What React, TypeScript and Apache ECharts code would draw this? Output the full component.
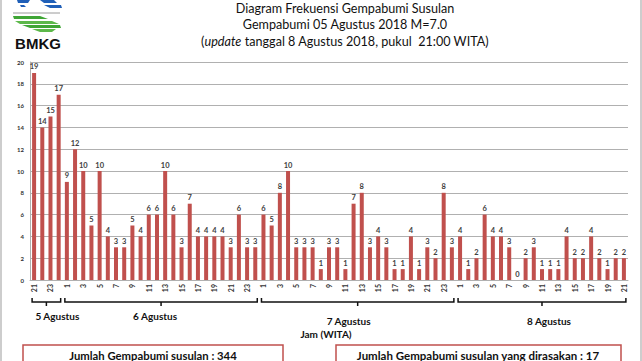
import React, { useEffect, useRef } from "react";
import * as echarts from "echarts";

const titleLines = [
  "Diagram Frekuensi Gempabumi Susulan",
  "Gempabumi 05 Agustus 2018 M=7.0",
];
const dayNames = ["5 Agustus", "6 Agustus", "7 Agustus", "8 Agustus"];
const dayHours: string[][] = [
  ["21", "22", "23", "24"],
  ["1","2","3","4","5","6","7","8","9","10","11","12","13","14","15","16","17","18","19","20","21","22","23","24"],
  ["1","2","3","4","5","6","7","8","9","10","11","12","13","14","15","16","17","18","19","20","21","22","23","24"],
  ["1","2","3","4","5","6","7","8","9","10","11","12","13","14","15","16","17","18","19","20","21"],
];
const dayCounts: number[][] = [
  [19, 14, 15, 17],
  [9, 12, 10, 5, 10, 4, 3, 3, 5, 4, 6, 6, 10, 6, 3, 7, 4, 4, 4, 4, 3, 6, 3, 3],
  [6, 5, 8, 10, 3, 3, 3, 1, 3, 3, 1, 7, 8, 3, 4, 3, 1, 1, 4, 1, 3, 2, 8, 3],
  [4, 1, 2, 6, 4, 4, 3, 0, 2, 3, 1, 1, 1, 4, 2, 2, 4, 2, 1, 2, 2],
];
const totalText = "Jumlah Gempabumi susulan : 344";
const feltText = "Jumlah Gempabumi susulan yang dirasakan : 17";

const categories: string[] = [];
const values: number[] = [];
const dayRanges: [number, number][] = [];
dayHours.forEach((hrs, d) => {
  const start = categories.length;
  hrs.forEach((h, i) => {
    categories.push(d + "-" + h);
    values.push(dayCounts[d][i]);
  });
  dayRanges.push([start, categories.length - 1]);
});

const RED = "#C0504D";
const FONT = "Lato, 'Open Sans', sans-serif";

export default function App() {
  const ref = useRef<HTMLDivElement>(null);
  useEffect(() => {
    if (!ref.current) return;
    const chart = echarts.init(ref.current, undefined, { renderer: "svg" });
    chart.setOption({
      animation: false,
      backgroundColor: "#ffffff",
      textStyle: { fontFamily: FONT },
      grid: { left: 30, right: 14, top: 62, bottom: 81 },
      xAxis: {
        type: "category",
        data: categories,
        axisLine: { show: true, lineStyle: { color: "#b0b0b0" } },
        axisTick: { show: false },
        axisLabel: {
          interval: 1,
          rotate: 90,
          fontSize: 7,
          fontWeight: "bold",
          color: "#333",
          margin: 4,
          formatter: (v: string) => v.split("-")[1],
        },
      },
      yAxis: {
        type: "value",
        min: 0,
        max: 20,
        interval: 2,
        axisLine: { show: true, lineStyle: { color: "#b0b0b0" } },
        axisTick: { show: false },
        splitLine: { lineStyle: { color: "#b0b0b0", width: 1 } },
        axisLabel: { fontSize: 6, fontWeight: "bold", color: "#333", margin: 6 },
      },
      series: [
        {
          type: "bar",
          data: values,
          barWidth: 4,
          itemStyle: { color: RED },
          label: {
            show: true,
            position: "top",
            distance: 2,
            fontSize: 7.5,
            fontWeight: "bold",
            color: "#404040",
          },
        },
      ],
    });

    const px = (i: number) => chart.convertToPixel({ xAxisIndex: 0 }, i) as number;
    const graphics: any[] = [];
    // borders
    graphics.push({ type: "line", shape: { x1: 1, y1: 0, x2: 1, y2: 361 }, style: { stroke: "#bdbdbd", lineWidth: 1.5 } });
    graphics.push({ type: "line", shape: { x1: 641, y1: 0, x2: 641, y2: 361 }, style: { stroke: "#bdbdbd", lineWidth: 1.5 } });
    // title
    graphics.push({ type: "text", x: 345, y: 8, style: { text: titleLines[0], font: "12.6px " + FONT, fill: "#111", align: "center", verticalAlign: "middle" } });
    graphics.push({ type: "text", x: 345, y: 24, style: { text: titleLines[1], font: "12.6px " + FONT, fill: "#111", align: "center", verticalAlign: "middle" } });
    graphics.push({
      type: "text", x: 345, y: 41,
      style: {
        text: "({i|update} tanggal 8 Agustus 2018, pukul  21:00 WITA)",
        font: "12.6px " + FONT, fill: "#111", align: "center", verticalAlign: "middle",
        rich: { i: { fontStyle: "italic", fontSize: 12.6, fontFamily: FONT, fill: "#111" } },
      },
    });
    // logo
    graphics.push({ type: "polygon", shape: { points: [[17, 0], [30, 0], [28, 3], [18, 3]] }, style: { fill: "#1f5fb8" } });
    graphics.push({ type: "polygon", shape: { points: [[40, 0], [54, 0], [57, 3], [44, 3]] }, style: { fill: "#1f5fb8" } });
    graphics.push({ type: "polygon", shape: { points: [[20, 5], [24, 5], [26, 7], [21, 7]] }, style: { fill: "#1f5fb8" } });
    graphics.push({ type: "polygon", shape: { points: [[44, 5], [61, 5], [62, 8], [50, 8]] }, style: { fill: "#1f5fb8" } });
    graphics.push({ type: "line", shape: { x1: 13, y1: 13, x2: 60, y2: 13 }, style: { stroke: "#9a9a9a", lineWidth: 1 } });
    graphics.push({ type: "polygon", shape: { points: [[13, 16], [40, 16], [48, 19], [14, 19]] }, style: { fill: "#3fa535" } });
    graphics.push({ type: "polygon", shape: { points: [[15, 21], [52, 21], [59, 24], [20, 24]] }, style: { fill: "#5cb84a" } });
    graphics.push({ type: "polygon", shape: { points: [[22, 25], [60, 25], [61, 28], [30, 28]] }, style: { fill: "#3fa535" } });
    graphics.push({ type: "polygon", shape: { points: [[32, 29], [56, 29], [52, 32], [40, 32]] }, style: { fill: "#5cb84a" } });
    graphics.push({ type: "text", x: 38, y: 43, style: { text: "BMKG", font: "bold 15px 'Liberation Sans', Arial, sans-serif", fill: "#111", align: "center", verticalAlign: "middle" } });
    // brackets
    const labelOffsets = [11, -6, -9, 7];
    const labelYs = [316, 316, 321, 321];
    dayRanges.forEach(([a, b], d) => {
      const x1 = px(a) - 2;
      const x2 = px(b) + 2;
      const mid = (x1 + x2) / 2;
      graphics.push({
        type: "polyline",
        shape: { points: [[x1, 298], [x1, 302], [mid, 302], [mid, 306], [mid, 302], [x2, 302], [x2, 298]] },
        style: { stroke: "#111", lineWidth: 1.5, fill: "none" },
      });
      graphics.push({
        type: "text", x: mid + labelOffsets[d], y: labelYs[d],
        style: { text: dayNames[d], font: "bold 10px " + FONT, fill: "#111", align: "center", verticalAlign: "middle" },
      });
    });
    graphics.push({ type: "text", x: 326, y: 334, style: { text: "Jam (WITA)", font: "bold 10px " + FONT, fill: "#111", align: "center", verticalAlign: "middle" } });
    // boxes
    graphics.push({ type: "rect", shape: { x: 23, y: 345, width: 260, height: 30 }, style: { stroke: RED, lineWidth: 1.5, fill: "#fff" } });
    graphics.push({ type: "rect", shape: { x: 336, y: 345, width: 285, height: 30 }, style: { stroke: RED, lineWidth: 1.5, fill: "#fff" } });
    graphics.push({ type: "text", x: 153, y: 355, style: { text: totalText, font: "bold 11.3px " + FONT, fill: "#111", align: "center", verticalAlign: "middle" } });
    graphics.push({ type: "text", x: 478, y: 355, style: { text: feltText, font: "bold 11.5px " + FONT, fill: "#111", align: "center", verticalAlign: "middle" } });

    chart.setOption({ graphic: graphics });
    return () => chart.dispose();
  }, []);
  return (
    <div
      ref={ref}
      style={{ position: "absolute", left: 0, top: 0, width: 642, height: 361, background: "#fff" }}
    />
  );
}
